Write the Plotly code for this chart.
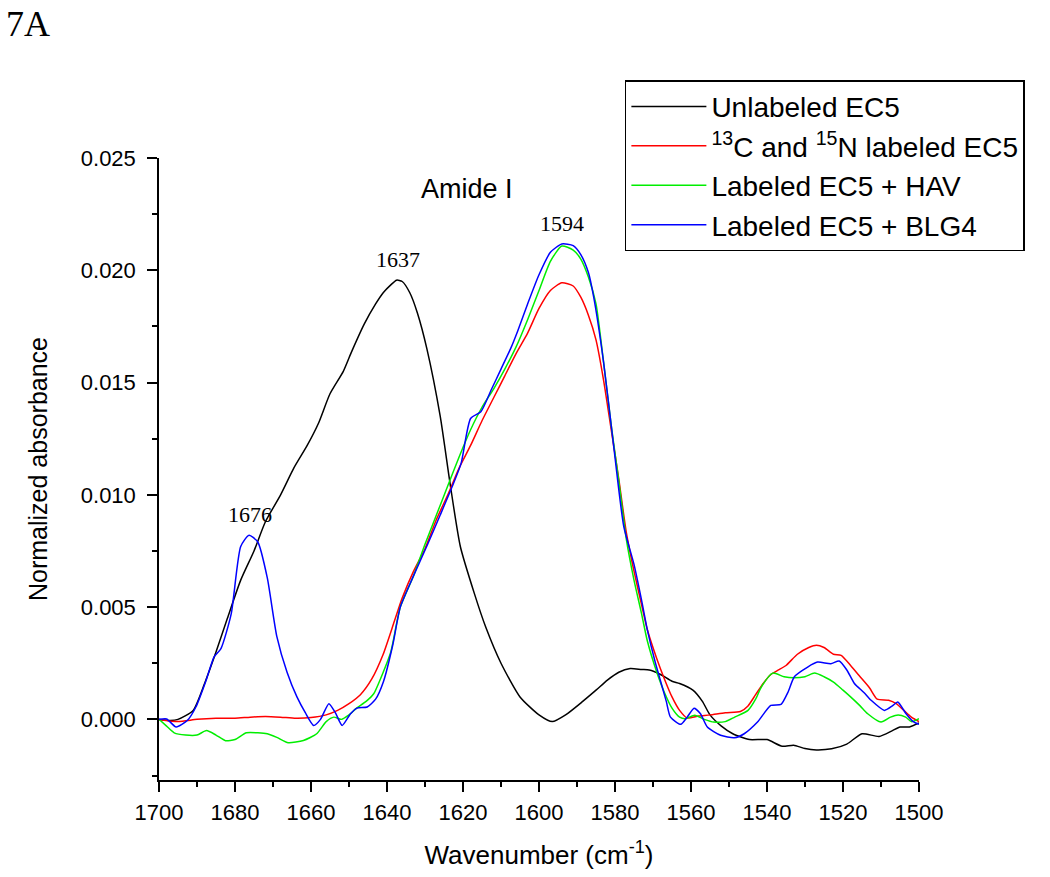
import plotly.graph_objects as go

# ---------------- data ----------------
black_x = [1700, 1697, 1695, 1691, 1688, 1685, 1682, 1678.5, 1675, 1672, 1668, 1664.5, 1661, 1658, 1655,
           1651.5, 1649.5, 1646, 1643, 1641, 1639, 1637.5, 1636, 1634, 1632, 1629.5, 1626, 1623.4, 1620.7,
           1617, 1614, 1610, 1605, 1600, 1596.5, 1593, 1588.5, 1585, 1582, 1579, 1576, 1573, 1571, 1568,
           1565, 1563, 1559.5, 1557, 1555, 1552, 1549, 1544.6, 1540, 1536, 1533, 1530, 1527, 1523, 1519,
           1515, 1510.5, 1507, 1505, 1502.5, 1500]
black_y = [0.0, -0.00005, 0.0, 0.0004, 0.0016, 0.0030, 0.0045, 0.0062, 0.0075, 0.0088, 0.0100, 0.0112,
           0.0122, 0.0132, 0.0145, 0.0155, 0.0163, 0.0176, 0.0185, 0.0190, 0.01935, 0.01956, 0.0195, 0.0190,
           0.0181, 0.0165, 0.0135, 0.0105, 0.0077, 0.0056, 0.0041, 0.0025, 0.0010, 0.0002, -0.0001, 0.0002,
           0.0008, 0.0013, 0.00175, 0.0021, 0.00226, 0.00222, 0.0022, 0.0020, 0.0017, 0.0016, 0.0013, 0.0008,
           0.0002, -0.0003, -0.00064, -0.0009, -0.0009, -0.0012, -0.00115, -0.0013, -0.00136, -0.00131,
           -0.0011, -0.00064, -0.00076, -0.0005, -0.00034, -0.00034, -0.00016]

red_x = [1700, 1695, 1690, 1685, 1680, 1676, 1672, 1668, 1664, 1660, 1656, 1653, 1650, 1647, 1644, 1641,
         1638, 1636, 1633, 1630, 1627, 1624, 1621, 1618, 1615, 1612, 1609, 1606, 1603, 1600, 1597, 1594,
         1591, 1589, 1587, 1585, 1583, 1581, 1579, 1577, 1575, 1573, 1571.5, 1569, 1567, 1565, 1563, 1561,
         1558, 1555, 1551, 1547, 1545, 1543, 1541, 1539, 1537, 1535, 1532, 1529, 1527, 1525, 1522.5, 1520.5,
         1518, 1515.5, 1513, 1511, 1508, 1506, 1504, 1502, 1500]
red_y = [0.0, -0.0001, 0.0, 0.00005, 0.00005, 0.0001, 0.00013, 0.0001, 0.00005, 0.00008, 0.0002, 0.0004,
         0.0007, 0.0011, 0.0018, 0.0029, 0.0044, 0.0054, 0.0066, 0.0076, 0.0089, 0.0100, 0.0112, 0.0122,
         0.0133, 0.0143, 0.0153, 0.0163, 0.0172, 0.0183, 0.0191, 0.01944, 0.0193, 0.0188, 0.0180, 0.0169,
         0.0151, 0.0129, 0.0107, 0.0083, 0.0066, 0.0051, 0.0040, 0.0027, 0.0018, 0.0010, 0.0004, 0.00006,
         0.00015, 0.0002, 0.0003, 0.00035, 0.0006, 0.0011, 0.0016, 0.0020, 0.0022, 0.0024, 0.0029, 0.0032,
         0.0033, 0.0032, 0.0029, 0.00285, 0.0024, 0.0019, 0.0014, 0.0009, 0.00085, 0.0007, 0.0004, 0.0001,
         -0.0001]

green_x = [1700, 1698, 1696, 1693, 1690, 1687.5, 1685, 1682.5, 1680, 1677, 1674, 1671.5, 1669, 1666, 1662,
           1658.5, 1656, 1654, 1652, 1650, 1648, 1645.5, 1643.5, 1641, 1639, 1636.5, 1633, 1630, 1627, 1624,
           1621, 1618, 1615, 1612, 1609, 1606, 1603, 1600, 1597, 1594, 1591, 1589, 1587, 1585, 1583, 1581,
           1579, 1577, 1575, 1573, 1571.5, 1569, 1567, 1565, 1563, 1561.5, 1559, 1556.5, 1554, 1551, 1548.5,
           1545, 1543, 1541.5, 1538.5, 1535.5, 1533, 1530, 1527.5, 1525, 1522.5, 1520, 1518, 1515.5, 1513.5,
           1510, 1507.5, 1505.5, 1503.5, 1502, 1500]
green_y = [0.0, -0.0003, -0.0006, -0.0007, -0.0007, -0.0005, -0.0007, -0.00095, -0.0009, -0.0006, -0.0006,
           -0.00064, -0.0008, -0.00104, -0.00094, -0.00064, -0.0001, 0.0001, 0.0, 0.0002, 0.0005, 0.0008,
           0.00114, 0.0021, 0.0030, 0.0050, 0.0064, 0.0078, 0.0091, 0.0104, 0.0117, 0.0129, 0.0139, 0.0147,
           0.0156, 0.0166, 0.0178, 0.0191, 0.0204, 0.02108, 0.0209, 0.0205, 0.0197, 0.0185, 0.0159, 0.0131,
           0.0106, 0.0080, 0.0062, 0.0047, 0.0035, 0.0021, 0.0012, 0.0005, 0.0001, 0.00003, 0.00018, 0.0,
           -0.00012, -0.0001, 0.0001, 0.0004, 0.0009, 0.00144, 0.00206, 0.0019, 0.00185, 0.0019, 0.00206,
           0.0019, 0.00166, 0.0013, 0.001, 0.0006, 0.00025, -0.00012, 0.0001, 0.0002, 0.0001, -0.0001, 0.00003]

blue_x = [1700, 1698, 1695.5, 1692.5, 1690.3, 1687.6, 1685.5, 1683.7, 1681, 1678.5, 1676.3, 1674, 1671.5,
          1669, 1666.3, 1663.7, 1661.5, 1659.3, 1657.5, 1655.3, 1653.6, 1651.8, 1649.6, 1647.9, 1645.2, 1643,
          1640.9, 1638.5, 1636.5, 1633, 1629.3, 1626, 1623, 1620.5, 1618, 1615.3, 1612.5, 1610, 1607.5,
          1605.6, 1603, 1600, 1597, 1594, 1591, 1589, 1587, 1585.6, 1583, 1580.3, 1577.7, 1575, 1573, 1571.5,
          1569.5, 1568, 1566.5, 1565.4, 1562.7, 1561, 1559.2, 1557.5, 1555.7, 1552.2, 1548.6, 1546, 1542.5,
          1539, 1536.3, 1534.5, 1532.8, 1529.3, 1526.7, 1523.2, 1521, 1519, 1517, 1514.5, 1512.6, 1509.1,
          1507, 1505.6, 1503.4, 1501.5, 1500]
blue_y = [0.0, 0.00002, -0.00034, -0.00004, 0.00055, 0.00174, 0.00278, 0.00315, 0.0047, 0.0077, 0.0082,
          0.0079, 0.0063, 0.0037, 0.0021, 0.0010, 0.0003, -0.00027, 0.0, 0.0007, 0.0003, -0.00027, 0.00025,
          0.0005, 0.00055, 0.0009, 0.0017, 0.0033, 0.0050, 0.0064, 0.0078, 0.0091, 0.0103, 0.0114, 0.0134,
          0.0137, 0.0147, 0.0156, 0.0165, 0.0173, 0.0185, 0.0198, 0.0208, 0.02117, 0.0211, 0.0207, 0.0199,
          0.0188, 0.0159, 0.0121, 0.0086, 0.0069, 0.0053, 0.0040, 0.0026, 0.0017, 0.0008, 0.0001, -0.00022,
          0.0001, 0.0005, 0.00025, -0.00034, -0.00071, -0.00082, -0.00064, -0.00012, 0.00062, 0.00067,
          0.0012, 0.0019, 0.00233, 0.00255, 0.00248, 0.0026, 0.0022, 0.0016, 0.0012, 0.00085, 0.0004, 0.0006,
          0.00077, 0.00025, -0.0001, -0.00022]

series_names = ["Unlabeled EC5", "<sup>13</sup>C and <sup>15</sup>N labeled EC5",
                "Labeled EC5 + HAV", "Labeled EC5 + BLG4"]
series_colors = ["#000000", "#ff0000", "#00ee00", "#0000ff"]

peak_labels = ["1676", "1637", "1594"]
peak_series = [3, 0, 3]          # series index each label belongs to
band_label = "Amide I"
panel_label = "7A"

# ---------------- figure ----------------
xs = [black_x, red_x, green_x, blue_x]
ys = [black_y, red_y, green_y, blue_y]

fig = go.Figure()
for x, y, name, col in zip(xs, ys, series_names, series_colors):
    fig.add_trace(go.Scatter(x=x, y=y, name=name, mode="lines",
                             line=dict(color=col, width=1.5, shape="spline", smoothing=0.6)))

sans = "Liberation Sans, Arial, sans-serif"
serif = "Liberation Serif, Times New Roman, serif"

# peak labels, placed at local maxima of the series they mark
for lab, si in zip(peak_labels, peak_series):
    w = float(lab)
    pts = [yy for xx, yy in zip(xs[si], ys[si]) if abs(xx - w) <= 3]
    ypk = max(pts)
    fig.add_annotation(x=w, y=ypk, text=lab, showarrow=False, yanchor="bottom", yshift=6,
                       font=dict(family=serif, size=22, color="black"))

fig.add_annotation(x=1619, y=0.0236, text=band_label, showarrow=False,
                   font=dict(family=sans, size=27, color="black"))

fig.add_annotation(x=0, y=1.0, xref="paper", yref="paper", text=panel_label, showarrow=False,
                   xanchor="left", yanchor="top", xshift=-155, yshift=156,
                   font=dict(family=serif, size=36, color="black"))

axis_common = dict(showline=True, linecolor="black", linewidth=1.5, ticks="outside", ticklen=10,
                   tickwidth=1.5, tickcolor="black", showgrid=False, zeroline=False,
                   tickfont=dict(family=sans, size=22, color="black"), mirror=False)

fig.update_xaxes(range=[1700, 1500], dtick=20, tick0=1500, ticklabelstandoff=2,
                 minor=dict(dtick=10, ticks="outside", ticklen=5, tickwidth=1.5, tickcolor="black"),
                 title=dict(text="Wavenumber (cm<sup>-1</sup>)", font=dict(family=sans, size=26, color="black"),
                            standoff=22),
                 **axis_common)
fig.update_yaxes(range=[-0.0027, 0.025], dtick=0.005, tick0=0, tickformat=".3f", ticklabelstandoff=7,
                 minor=dict(dtick=0.0025, ticks="outside", ticklen=5, tickwidth=1.5, tickcolor="black"),
                 title=dict(text="Normalized absorbance", font=dict(family=sans, size=25, color="black"),
                            standoff=26),
                 **axis_common)

fig.update_layout(
    width=1050, height=877,
    margin=dict(l=159, r=131, t=158, b=97),
    plot_bgcolor="white", paper_bgcolor="white",
    showlegend=True,
    legend=dict(x=0.613, y=1.125, xanchor="left", yanchor="top",
                bordercolor="black", borderwidth=1.5, bgcolor="white",
                font=dict(family=sans, size=28, color="black"),
                itemwidth=75, tracegroupgap=0),
)

fig.write_html("out.html", config={"displayModeBar": False},
               post_script="document.body.style.margin='0';")
